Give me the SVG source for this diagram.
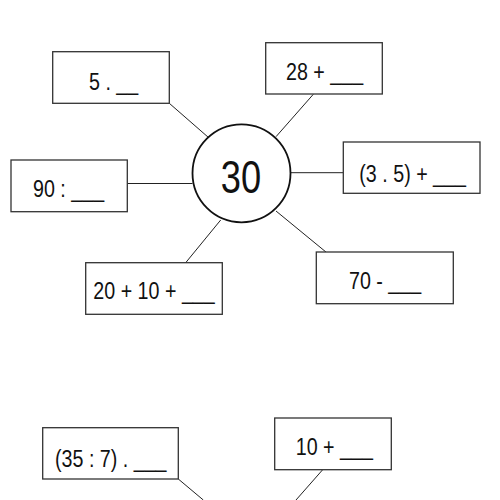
<svg xmlns="http://www.w3.org/2000/svg" width="500" height="500" viewBox="0 0 500 500">
<style>
.box{fill:#fff;stroke:#333;stroke-width:1.3}
.t{font-family:"Liberation Sans",Arial,sans-serif;font-size:24px;fill:#111}
.c{stroke:#222;stroke-width:1;fill:none}
</style>
<rect width="500" height="500" fill="#fff"/>
<g id="connectors">
<line class="c" x1="169.3" y1="103.3" x2="208.5" y2="137.5"/>
<line class="c" x1="127.3" y1="183.5" x2="192.5" y2="183.5"/>
<line class="c" x1="313.3" y1="94.3" x2="276" y2="136.7"/>
<line class="c" x1="290.5" y1="172.7" x2="343.3" y2="172.7"/>
<line class="c" x1="185.7" y1="262.7" x2="220.7" y2="220"/>
<line class="c" x1="326.3" y1="252.3" x2="276" y2="211"/>
<line class="c" x1="178.3" y1="479" x2="203.3" y2="500"/>
<line class="c" x1="322.7" y1="469.7" x2="296" y2="500"/>
</g>
<g id="center">
<circle cx="241.5" cy="173.3" r="49" fill="#fff" stroke="#111" stroke-width="1.8"/>
<text transform="translate(241,192.5) scale(0.78,1)" text-anchor="middle" font-family="'Liberation Sans',Arial,sans-serif" font-size="46.5" fill="#111">30</text>
</g>
<g id="n1"><rect class="box" x="52.7" y="51.7" width="116.6" height="51.6"/><text class="t" transform="translate(89,90) scale(0.82,1)">5 . __</text></g>
<g id="n2"><rect class="box" x="11" y="160" width="116.3" height="51.7"/><text class="t" transform="translate(33,197.3) scale(0.82,1)">90 : ___</text></g>
<g id="n3"><rect class="box" x="265.7" y="42.7" width="116.6" height="51.3"/><text class="t" transform="translate(286,80) scale(0.82,1)">28 + ___</text></g>
<g id="n4"><rect class="box" x="343.3" y="142" width="136.7" height="51.3"/><text class="t" transform="translate(359.3,182.3) scale(0.82,1)">(3 . 5) + ___</text></g>
<g id="n5"><rect class="box" x="85.7" y="262.7" width="136.6" height="51.6"/><text class="t" transform="translate(93.3,299.3) scale(0.82,1)">20 + 10 + ___</text></g>
<g id="n6"><rect class="box" x="316.3" y="252" width="137" height="51.7"/><text class="t" transform="translate(349,289.3) scale(0.82,1)">70 - ___</text></g>
<g id="n7"><rect class="box" x="42.7" y="427.7" width="135.6" height="51.3"/><text class="t" transform="translate(55,466.7) scale(0.82,1)">(35 : 7) . ___</text></g>
<g id="n8"><rect class="box" x="274.7" y="418" width="116.6" height="51.7"/><text class="t" transform="translate(295.7,455) scale(0.82,1)">10 + ___</text></g>
</svg>
